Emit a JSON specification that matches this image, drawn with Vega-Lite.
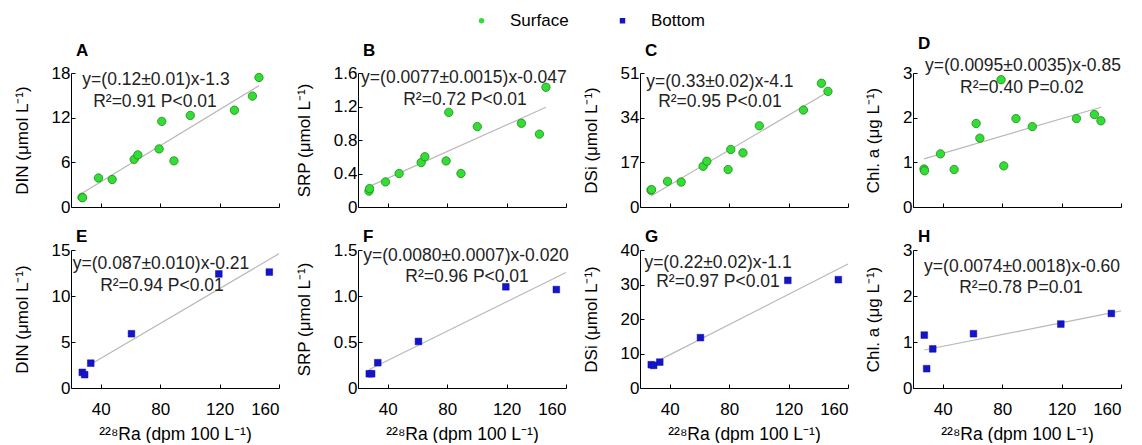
{
  "$schema": "https://vega.github.io/schema/vega-lite/v6.json",
  "padding": {"left": 13, "top": 12, "right": 4, "bottom": 0},
  "datasets": {
    "surface": [
      {"depth": "Surface", "ra": 27.4, "din": 1.3, "srp": 0.19, "dsi": 6.4, "chl": 0.85},
      {"depth": "Surface", "ra": 27.8, "din": 1.25, "srp": 0.22, "dsi": 6.6, "chl": 0.81},
      {"depth": "Surface", "ra": 38.5, "din": 3.9, "srp": 0.30, "dsi": 9.75, "chl": 1.19},
      {"depth": "Surface", "ra": 47.7, "din": 3.7, "srp": 0.40, "dsi": 9.5, "chl": 0.84},
      {"depth": "Surface", "ra": 62.5, "din": 6.4, "srp": 0.53, "dsi": 15.5, "chl": 1.87},
      {"depth": "Surface", "ra": 65.0, "din": 7.0, "srp": 0.60, "dsi": 17.4, "chl": 1.54},
      {"depth": "Surface", "ra": 79.3, "din": 7.8, "srp": 0.55, "dsi": 14.25, "chl": 2.85},
      {"depth": "Surface", "ra": 81.1, "din": 11.5, "srp": 1.13, "dsi": 21.9, "chl": 0.92},
      {"depth": "Surface", "ra": 89.3, "din": 6.2, "srp": 0.40, "dsi": 20.6, "chl": 1.98},
      {"depth": "Surface", "ra": 100.3, "din": 12.3, "srp": 0.96, "dsi": 30.9, "chl": 1.80},
      {"depth": "Surface", "ra": 130.0, "din": 13.0, "srp": 1.00, "dsi": 36.9, "chl": 1.98},
      {"depth": "Surface", "ra": 142.1, "din": 14.9, "srp": 0.87, "dsi": 47.1, "chl": 2.07},
      {"depth": "Surface", "ra": 146.5, "din": 17.4, "srp": 1.43, "dsi": 44.0, "chl": 1.93}
    ],
    "bottom": [
      {"depth": "Bottom", "ra": 27.6, "din": 1.7, "srp": 0.155, "dsi": 6.75, "chl": 1.15},
      {"depth": "Bottom", "ra": 29.2, "din": 1.45, "srp": 0.155, "dsi": 6.55, "chl": 0.42},
      {"depth": "Bottom", "ra": 33.3, "din": 2.7, "srp": 0.275, "dsi": 7.5, "chl": 0.85},
      {"depth": "Bottom", "ra": 60.7, "din": 5.9, "srp": 0.506, "dsi": 14.6, "chl": 1.18},
      {"depth": "Bottom", "ra": 119.5, "din": 12.4, "srp": 1.10, "dsi": 31.2, "chl": 1.39},
      {"depth": "Bottom", "ra": 153.5, "din": 12.6, "srp": 1.07, "dsi": 31.4, "chl": 1.62}
    ],
    "notes": [
      {"panel": "A", "ra": 77.2, "din": 17.06, "text": "y=(0.12±0.01)x-1.3"},
      {"panel": "A", "ra": 76.5, "din": 14.1, "text": "R²=0.91 P<0.01"},
      {"panel": "B", "ra": 91.3, "srp": 1.54, "text": "y=(0.0077±0.0015)x-0.047"},
      {"panel": "B", "ra": 92.0, "srp": 1.28, "text": "R²=0.72 P<0.01"},
      {"panel": "C", "ra": 73.8, "dsi": 47.6, "text": "y=(0.33±0.02)x-4.1"},
      {"panel": "C", "ra": 73.8, "dsi": 40.0, "text": "R²=0.95 P<0.01"},
      {"panel": "D", "ra": 94.0, "chl": 3.16, "text": "y=(0.0095±0.0035)x-0.85"},
      {"panel": "D", "ra": 93.3, "chl": 2.66, "text": "R²=0.40 P=0.02"},
      {"panel": "E", "ra": 80.6, "din": 13.5, "text": "y=(0.087±0.010)x-0.21"},
      {"panel": "E", "ra": 81.2, "din": 11.1, "text": "R²=0.94 P<0.01"},
      {"panel": "F", "ra": 92.7, "srp": 1.44, "text": "y=(0.0080±0.0007)x-0.020"},
      {"panel": "F", "ra": 93.4, "srp": 1.21, "text": "R²=0.96 P<0.01"},
      {"panel": "G", "ra": 72.5, "dsi": 36.2, "text": "y=(0.22±0.02)x-1.1"},
      {"panel": "G", "ra": 72.5, "dsi": 30.8, "text": "R²=0.97 P<0.01"},
      {"panel": "H", "ra": 93.4, "chl": 2.63, "text": "y=(0.0074±0.0018)x-0.60"},
      {"panel": "H", "ra": 92.7, "chl": 2.17, "text": "R²=0.78 P=0.01"}
    ]
  },
  "config": {
    "font": "Liberation Sans",
    "view": {"stroke": null},
    "axis": {"grid": false, "domainColor": "#000", "tickColor": "#000", "labelColor": "#000", "titleColor": "#000", "labelFont": "Liberation Sans", "labelFontSize": 17, "titleFont": "Liberation Sans", "titleFontSize": 17, "titleFontWeight": "normal", "tickSize": -4, "labelPadding": 5, "domainWidth": 1, "tickWidth": 1},
    "axisY": {"minExtent": 0, "titlePadding": 20},
    "axisX": {"titlePadding": 8, "labelPadding": 17, "titleFontSize": 17.5},
    "title": {"anchor": "start", "frame": "group", "fontSize": 17, "fontWeight": "bold", "offset": 6, "dx": 5, "color": "#000", "font": "Liberation Sans"},
    "legend": {"labelFont": "Liberation Sans", "labelFontSize": 17, "labelColor": "#000", "symbolSize": 30, "labelOffset": 20, "columnPadding": 45, "symbolStrokeWidth": 0},
    "text": {"font": "Liberation Sans", "fontSize": 17.5, "color": "#222", "align": "center", "baseline": "middle"}
  },
  "columns": 4,
  "align": "each",
  "spacing": {"row": 13, "column": 13},
  "concat": [
    {
      "width": 208, "height": 134,
      "title": {"text": "A", "dy": 2},
      "encoding": {
        "x": {"field": "ra", "type": "quantitative", "scale": {"domain": [20, 160], "nice": false, "zero": false}, "axis": {"values": [40, 80, 120, 160], "labels": false, "title": null}},
        "y": {"field": "din", "type": "quantitative", "scale": {"domain": [0, 18], "nice": false}, "axis": {"values": [0, 6, 12, 18], "title": "DIN (μmol L⁻¹)"}}
      },
      "layer": [
        {"data": {"name": "surface"}, "transform": [{"regression": "din", "on": "ra"}], "mark": {"type": "line", "color": "#b8b8b8", "strokeWidth": 1.2}, "encoding": {}},
        {"data": {"name": "surface"}, "mark": {"type": "point", "filled": true, "size": 70, "opacity": 1, "strokeWidth": 0.8},
         "encoding": {
           "color": {"field": "depth", "type": "nominal", "scale": {"domain": ["Surface", "Bottom"], "range": ["#33dd33", "#1414c8"]}, "legend": {"orient": "none", "legendX": 402, "legendY": -61, "direction": "horizontal", "title": null, "labelOffset": 20, "columnPadding": 45}},
           "shape": {"field": "depth", "type": "nominal", "scale": {"domain": ["Surface", "Bottom"], "range": ["circle", "square"]}, "legend": {"orient": "none", "legendX": 402, "legendY": -61, "direction": "horizontal", "title": null, "labelOffset": 20, "columnPadding": 45}},
           "stroke": {"field": "depth", "type": "nominal", "scale": {"domain": ["Surface", "Bottom"], "range": ["#1c8a1c", "#1010a8"]}, "legend": null}
         }},
        {"data": {"name": "notes"}, "transform": [{"filter": "datum.panel === 'A'"}], "mark": {"type": "text"}, "encoding": {"text": {"field": "text"}}}
      ]
    },
    {
      "width": 208, "height": 134,
      "title": {"text": "B", "dy": 2},
      "encoding": {
        "x": {"field": "ra", "type": "quantitative", "scale": {"domain": [20, 160], "nice": false, "zero": false}, "axis": {"values": [40, 80, 120, 160], "labels": false, "title": null}},
        "y": {"field": "srp", "type": "quantitative", "scale": {"domain": [0, 1.6], "nice": false}, "axis": {"values": [0, 0.4, 0.8, 1.2, 1.6], "labelExpr": "datum.value == 0 ? '0' : format(datum.value, '.1f')", "title": "SRP (μmol L⁻¹)"}}
      },
      "layer": [
        {"data": {"name": "surface"}, "transform": [{"regression": "srp", "on": "ra"}], "mark": {"type": "line", "color": "#b8b8b8", "strokeWidth": 1.2}, "encoding": {}},
        {"data": {"name": "surface"}, "mark": {"type": "point", "filled": true, "size": 70, "opacity": 1, "strokeWidth": 0.8},
         "encoding": {
           "color": {"field": "depth", "type": "nominal", "scale": {"domain": ["Surface", "Bottom"], "range": ["#33dd33", "#1414c8"]}, "legend": {"orient": "none", "legendX": 402, "legendY": -61, "direction": "horizontal", "title": null, "labelOffset": 20, "columnPadding": 45}},
           "shape": {"field": "depth", "type": "nominal", "scale": {"domain": ["Surface", "Bottom"], "range": ["circle", "square"]}, "legend": {"orient": "none", "legendX": 402, "legendY": -61, "direction": "horizontal", "title": null, "labelOffset": 20, "columnPadding": 45}},
           "stroke": {"field": "depth", "type": "nominal", "scale": {"domain": ["Surface", "Bottom"], "range": ["#1c8a1c", "#1010a8"]}, "legend": null}
         }},
        {"data": {"name": "notes"}, "transform": [{"filter": "datum.panel === 'B'"}], "mark": {"type": "text"}, "encoding": {"text": {"field": "text"}}}
      ]
    },
    {
      "width": 208, "height": 134,
      "title": {"text": "C", "dy": 2},
      "encoding": {
        "x": {"field": "ra", "type": "quantitative", "scale": {"domain": [20, 160], "nice": false, "zero": false}, "axis": {"values": [40, 80, 120, 160], "labels": false, "title": null}},
        "y": {"field": "dsi", "type": "quantitative", "scale": {"domain": [0, 51], "nice": false}, "axis": {"values": [0, 17, 34, 51], "title": "DSi (μmol L⁻¹)"}}
      },
      "layer": [
        {"data": {"name": "surface"}, "transform": [{"regression": "dsi", "on": "ra"}], "mark": {"type": "line", "color": "#b8b8b8", "strokeWidth": 1.2}, "encoding": {}},
        {"data": {"name": "surface"}, "mark": {"type": "point", "filled": true, "size": 70, "opacity": 1, "strokeWidth": 0.8},
         "encoding": {
           "color": {"field": "depth", "type": "nominal", "scale": {"domain": ["Surface", "Bottom"], "range": ["#33dd33", "#1414c8"]}, "legend": {"orient": "none", "legendX": 402, "legendY": -61, "direction": "horizontal", "title": null, "labelOffset": 20, "columnPadding": 45}},
           "shape": {"field": "depth", "type": "nominal", "scale": {"domain": ["Surface", "Bottom"], "range": ["circle", "square"]}, "legend": {"orient": "none", "legendX": 402, "legendY": -61, "direction": "horizontal", "title": null, "labelOffset": 20, "columnPadding": 45}},
           "stroke": {"field": "depth", "type": "nominal", "scale": {"domain": ["Surface", "Bottom"], "range": ["#1c8a1c", "#1010a8"]}, "legend": null}
         }},
        {"data": {"name": "notes"}, "transform": [{"filter": "datum.panel === 'C'"}], "mark": {"type": "text"}, "encoding": {"text": {"field": "text"}}}
      ]
    },
    {
      "width": 208, "height": 134,
      "title": {"text": "D", "dy": 2},
      "encoding": {
        "x": {"field": "ra", "type": "quantitative", "scale": {"domain": [20, 160], "nice": false, "zero": false}, "axis": {"values": [40, 80, 120, 160], "labels": false, "title": null}},
        "y": {"field": "chl", "type": "quantitative", "scale": {"domain": [0, 3], "nice": false}, "axis": {"values": [0, 1, 2, 3], "title": "Chl. a (μg L⁻¹)"}}
      },
      "layer": [
        {"data": {"name": "surface"}, "transform": [{"regression": "chl", "on": "ra"}], "mark": {"type": "line", "color": "#b8b8b8", "strokeWidth": 1.2}, "encoding": {}},
        {"data": {"name": "surface"}, "mark": {"type": "point", "filled": true, "size": 70, "opacity": 1, "strokeWidth": 0.8},
         "encoding": {
           "color": {"field": "depth", "type": "nominal", "scale": {"domain": ["Surface", "Bottom"], "range": ["#33dd33", "#1414c8"]}, "legend": {"orient": "none", "legendX": 402, "legendY": -61, "direction": "horizontal", "title": null, "labelOffset": 20, "columnPadding": 45}},
           "shape": {"field": "depth", "type": "nominal", "scale": {"domain": ["Surface", "Bottom"], "range": ["circle", "square"]}, "legend": {"orient": "none", "legendX": 402, "legendY": -61, "direction": "horizontal", "title": null, "labelOffset": 20, "columnPadding": 45}},
           "stroke": {"field": "depth", "type": "nominal", "scale": {"domain": ["Surface", "Bottom"], "range": ["#1c8a1c", "#1010a8"]}, "legend": null}
         }},
        {"data": {"name": "notes"}, "transform": [{"filter": "datum.panel === 'D'"}], "mark": {"type": "text"}, "encoding": {"text": {"field": "text"}}}
      ]
    },
    {
      "width": 208, "height": 138,
      "title": {"text": "E", "dy": 11},
      "encoding": {
        "x": {"field": "ra", "type": "quantitative", "scale": {"domain": [20, 160], "nice": false, "zero": false}, "axis": {"values": [40, 80, 120, 160], "title": "²²⁸Ra (dpm 100 L⁻¹)"}},
        "y": {"field": "din", "type": "quantitative", "scale": {"domain": [0, 15], "nice": false}, "axis": {"values": [0, 5, 10, 15], "title": "DIN (μmol L⁻¹)"}}
      },
      "layer": [
        {"data": {"name": "bottom"}, "transform": [{"regression": "din", "on": "ra", "extent": [33, 160]}], "mark": {"type": "line", "color": "#b8b8b8", "strokeWidth": 1.2}, "encoding": {}},
        {"data": {"name": "bottom"}, "mark": {"type": "point", "filled": true, "size": 45, "opacity": 1, "strokeWidth": 0.5},
         "encoding": {
           "color": {"field": "depth", "type": "nominal", "scale": {"domain": ["Surface", "Bottom"], "range": ["#33dd33", "#1414c8"]}, "legend": {"orient": "none", "legendX": 402, "legendY": -61, "direction": "horizontal", "title": null, "labelOffset": 20, "columnPadding": 45}},
           "shape": {"field": "depth", "type": "nominal", "scale": {"domain": ["Surface", "Bottom"], "range": ["circle", "square"]}, "legend": {"orient": "none", "legendX": 402, "legendY": -61, "direction": "horizontal", "title": null, "labelOffset": 20, "columnPadding": 45}},
           "stroke": {"field": "depth", "type": "nominal", "scale": {"domain": ["Surface", "Bottom"], "range": ["#1c8a1c", "#1010a8"]}, "legend": null}
         }},
        {"data": {"name": "notes"}, "transform": [{"filter": "datum.panel === 'E'"}], "mark": {"type": "text"}, "encoding": {"text": {"field": "text"}}}
      ]
    },
    {
      "width": 208, "height": 138,
      "title": {"text": "F", "dy": 11},
      "encoding": {
        "x": {"field": "ra", "type": "quantitative", "scale": {"domain": [20, 160], "nice": false, "zero": false}, "axis": {"values": [40, 80, 120, 160], "title": "²²⁸Ra (dpm 100 L⁻¹)"}},
        "y": {"field": "srp", "type": "quantitative", "scale": {"domain": [0, 1.5], "nice": false}, "axis": {"values": [0, 0.5, 1.0, 1.5], "labelExpr": "datum.value == 0 ? '0' : format(datum.value, '.1f')", "title": "SRP (μmol L⁻¹)"}}
      },
      "layer": [
        {"data": {"name": "bottom"}, "transform": [{"regression": "srp", "on": "ra", "extent": [27.6, 160]}], "mark": {"type": "line", "color": "#b8b8b8", "strokeWidth": 1.2}, "encoding": {}},
        {"data": {"name": "bottom"}, "mark": {"type": "point", "filled": true, "size": 45, "opacity": 1, "strokeWidth": 0.5},
         "encoding": {
           "color": {"field": "depth", "type": "nominal", "scale": {"domain": ["Surface", "Bottom"], "range": ["#33dd33", "#1414c8"]}, "legend": {"orient": "none", "legendX": 402, "legendY": -61, "direction": "horizontal", "title": null, "labelOffset": 20, "columnPadding": 45}},
           "shape": {"field": "depth", "type": "nominal", "scale": {"domain": ["Surface", "Bottom"], "range": ["circle", "square"]}, "legend": {"orient": "none", "legendX": 402, "legendY": -61, "direction": "horizontal", "title": null, "labelOffset": 20, "columnPadding": 45}},
           "stroke": {"field": "depth", "type": "nominal", "scale": {"domain": ["Surface", "Bottom"], "range": ["#1c8a1c", "#1010a8"]}, "legend": null}
         }},
        {"data": {"name": "notes"}, "transform": [{"filter": "datum.panel === 'F'"}], "mark": {"type": "text"}, "encoding": {"text": {"field": "text"}}}
      ]
    },
    {
      "width": 208, "height": 138,
      "title": {"text": "G", "dy": 11},
      "encoding": {
        "x": {"field": "ra", "type": "quantitative", "scale": {"domain": [20, 160], "nice": false, "zero": false}, "axis": {"values": [40, 80, 120, 160], "title": "²²⁸Ra (dpm 100 L⁻¹)"}},
        "y": {"field": "dsi", "type": "quantitative", "scale": {"domain": [0, 40], "nice": false}, "axis": {"values": [0, 10, 20, 30, 40], "title": "DSi (μmol L⁻¹)"}}
      },
      "layer": [
        {"data": {"name": "bottom"}, "transform": [{"regression": "dsi", "on": "ra", "extent": [33, 160]}], "mark": {"type": "line", "color": "#b8b8b8", "strokeWidth": 1.2}, "encoding": {}},
        {"data": {"name": "bottom"}, "mark": {"type": "point", "filled": true, "size": 45, "opacity": 1, "strokeWidth": 0.5},
         "encoding": {
           "color": {"field": "depth", "type": "nominal", "scale": {"domain": ["Surface", "Bottom"], "range": ["#33dd33", "#1414c8"]}, "legend": {"orient": "none", "legendX": 402, "legendY": -61, "direction": "horizontal", "title": null, "labelOffset": 20, "columnPadding": 45}},
           "shape": {"field": "depth", "type": "nominal", "scale": {"domain": ["Surface", "Bottom"], "range": ["circle", "square"]}, "legend": {"orient": "none", "legendX": 402, "legendY": -61, "direction": "horizontal", "title": null, "labelOffset": 20, "columnPadding": 45}},
           "stroke": {"field": "depth", "type": "nominal", "scale": {"domain": ["Surface", "Bottom"], "range": ["#1c8a1c", "#1010a8"]}, "legend": null}
         }},
        {"data": {"name": "notes"}, "transform": [{"filter": "datum.panel === 'G'"}], "mark": {"type": "text"}, "encoding": {"text": {"field": "text"}}}
      ]
    },
    {
      "width": 208, "height": 138,
      "title": {"text": "H", "dy": 11},
      "encoding": {
        "x": {"field": "ra", "type": "quantitative", "scale": {"domain": [20, 160], "nice": false, "zero": false}, "axis": {"values": [40, 80, 120, 160], "title": "²²⁸Ra (dpm 100 L⁻¹)"}},
        "y": {"field": "chl", "type": "quantitative", "scale": {"domain": [0, 3], "nice": false}, "axis": {"values": [0, 1, 2, 3], "title": "Chl. a (μg L⁻¹)"}}
      },
      "layer": [
        {"data": {"name": "bottom"}, "transform": [{"regression": "chl", "on": "ra", "extent": [27.6, 160]}], "mark": {"type": "line", "color": "#b8b8b8", "strokeWidth": 1.2}, "encoding": {}},
        {"data": {"name": "bottom"}, "mark": {"type": "point", "filled": true, "size": 45, "opacity": 1, "strokeWidth": 0.5},
         "encoding": {
           "color": {"field": "depth", "type": "nominal", "scale": {"domain": ["Surface", "Bottom"], "range": ["#33dd33", "#1414c8"]}, "legend": {"orient": "none", "legendX": 402, "legendY": -61, "direction": "horizontal", "title": null, "labelOffset": 20, "columnPadding": 45}},
           "shape": {"field": "depth", "type": "nominal", "scale": {"domain": ["Surface", "Bottom"], "range": ["circle", "square"]}, "legend": {"orient": "none", "legendX": 402, "legendY": -61, "direction": "horizontal", "title": null, "labelOffset": 20, "columnPadding": 45}},
           "stroke": {"field": "depth", "type": "nominal", "scale": {"domain": ["Surface", "Bottom"], "range": ["#1c8a1c", "#1010a8"]}, "legend": null}
         }},
        {"data": {"name": "notes"}, "transform": [{"filter": "datum.panel === 'H'"}], "mark": {"type": "text"}, "encoding": {"text": {"field": "text"}}}
      ]
    }
  ]
}
